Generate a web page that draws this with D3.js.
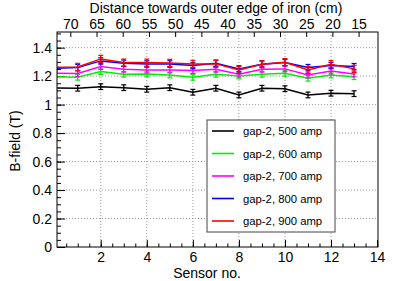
<!DOCTYPE html>
<html>
<head>
<meta charset="utf-8">
<script src="https://cdn.jsdelivr.net/npm/d3@7"></script>
<style>
body { margin: 0; background: #fff; }
svg text { font-family: "Liberation Sans", Arial, sans-serif; }
</style>
</head>
<body>
<div id="chart"></div>
<script>
// sensor numbers and B-field readings (T)
var sensors = [0, 1, 2, 3, 4, 5, 6, 7, 8, 9, 10, 11, 12, 13];
var amp500 = [1.117, 1.115, 1.126, 1.119, 1.108, 1.119, 1.087, 1.115, 1.068, 1.115, 1.112, 1.068, 1.080, 1.077];
var amp600 = [1.196, 1.192, 1.232, 1.213, 1.215, 1.208, 1.192, 1.213, 1.201, 1.213, 1.220, 1.185, 1.208, 1.196];
var amp700 = [1.220, 1.218, 1.267, 1.248, 1.243, 1.243, 1.239, 1.248, 1.213, 1.248, 1.251, 1.208, 1.236, 1.215];
var amp800 = [1.255, 1.260, 1.307, 1.291, 1.286, 1.286, 1.274, 1.291, 1.251, 1.284, 1.295, 1.260, 1.274, 1.267];
var amp900 = [1.262, 1.265, 1.321, 1.295, 1.295, 1.293, 1.286, 1.286, 1.243, 1.284, 1.298, 1.243, 1.284, 1.251];
var errors = [0.02, 0.02, 0.02, 0.022, 0.025];
var seriesNames = ["gap-2, 500 amp", "gap-2, 600 amp", "gap-2, 700 amp", "gap-2, 800 amp", "gap-2, 900 amp"];
var colors = ["#000000", "#00ee00", "#ff00ff", "#0000ff", "#ff0000"];
var yTicks = [0, 0.2, 0.4, 0.6, 0.8, 1, 1.2, 1.4];
var xTicks = [2, 4, 6, 8, 10, 12, 14];
var topTicks = [70, 65, 60, 55, 50, 45, 40, 35, 30, 25, 20, 15];

var allSeries = [amp500, amp600, amp700, amp800, amp900];

var width = 415, height = 281;
var margin = {top: 32, right: 37, bottom: 34, left: 57};
var chartWidth = width - margin.left - margin.right;
var chartHeight = height - margin.top - margin.bottom;

var svg = d3.select("#chart").append("svg")
    .attr("width", width)
    .attr("height", height);

svg.append("defs").append("clipPath").attr("id", "frame-clip")
  .append("rect").attr("width", chartWidth).attr("height", chartHeight);

var g = svg.append("g")
    .attr("transform", `translate(${margin.left}, ${margin.top})`);

var xScale = d3.scaleLinear().domain([0.1, 14.04]).range([0, chartWidth]);
var yScale = d3.scaleLinear().domain([0, 1.51]).range([chartHeight, 0]);
// distance axis on top
var topScale = d3.scaleLinear().domain([72.54, 11.3]).range([0, chartWidth]);

// grid
g.append("g").selectAll("line")
    .data(xTicks.filter(d => d < 14))
    .enter().append("line")
    .attr("x1", d => xScale(d)).attr("x2", d => xScale(d))
    .attr("y1", 0).attr("y2", chartHeight)
    .attr("stroke", "#999").attr("stroke-dasharray", "1,2");
g.append("g").selectAll("line")
    .data(yTicks.filter(d => d > 0))
    .enter().append("line")
    .attr("x1", 0).attr("x2", chartWidth)
    .attr("y1", d => yScale(d)).attr("y2", d => yScale(d))
    .attr("stroke", "#999").attr("stroke-dasharray", "1,2");

// axes
var minorX = d3.range(0.5, 14.01, 0.5);
var minorY = d3.range(0, 1.501, 0.05);

g.append("g")
    .attr("transform", `translate(0,${chartHeight})`)
    .call(d3.axisBottom(xScale).tickValues(minorX).tickSize(-3.5).tickFormat(""))
    .call(a => a.select(".domain").remove());
g.append("g")
    .attr("class", "x axis")
    .attr("transform", `translate(0,${chartHeight})`)
    .call(d3.axisBottom(xScale).tickValues(xTicks).tickSize(-7).tickPadding(5).tickFormat(d3.format("d")))
    .call(a => a.select(".domain").remove());

g.append("g")
    .call(d3.axisLeft(yScale).tickValues(minorY).tickSize(-4).tickFormat(""))
    .call(a => a.select(".domain").remove());
g.append("g")
    .attr("class", "y axis")
    .call(d3.axisLeft(yScale).tickValues(yTicks).tickSize(-8).tickPadding(5).tickFormat(d => d3.format("")(d)))
    .call(a => a.select(".domain").remove());

g.append("g")
    .attr("class", "top axis")
    .call(d3.axisTop(topScale).tickValues(topTicks).tickSize(-5).tickPadding(3))
    .call(a => a.select(".domain").remove());

g.selectAll(".tick line").attr("stroke", "#000");
g.selectAll(".tick text").attr("font-size", "14px").attr("fill", "#000")
    .attr("font-family", "Liberation Sans, Arial, sans-serif");

// series
var line = d3.line()
    .x((d, i) => xScale(sensors[i]))
    .y(d => yScale(d));

var plot = g.append("g").attr("clip-path", "url(#frame-clip)");

allSeries.forEach((vals, k) => {
  var sg = plot.append("g");
  sg.append("path")
      .datum(vals)
      .attr("d", line)
      .attr("fill", "none")
      .attr("stroke", colors[k])
      .attr("stroke-width", 1.5);
  var eb = sg.selectAll(".err").data(vals).enter().append("g");
  eb.append("line")
      .attr("x1", (d, i) => xScale(sensors[i])).attr("x2", (d, i) => xScale(sensors[i]))
      .attr("y1", d => yScale(d - errors[k])).attr("y2", d => yScale(d + errors[k]))
      .attr("stroke", colors[k]).attr("stroke-width", 1.3);
  [-1, 1].forEach(s => {
    eb.append("line")
        .attr("x1", (d, i) => xScale(sensors[i]) - 2.5).attr("x2", (d, i) => xScale(sensors[i]) + 2.5)
        .attr("y1", d => yScale(d + s * errors[k])).attr("y2", d => yScale(d + s * errors[k]))
        .attr("stroke", colors[k]).attr("stroke-width", 1.2);
  });
});

// frame
g.append("rect")
    .attr("width", chartWidth).attr("height", chartHeight)
    .attr("fill", "none").attr("stroke", "#000");

// titles
svg.append("text")
    .attr("x", 216).attr("y", 13)
    .attr("text-anchor", "middle").attr("font-size", "14px")
    .text("Distance towards outer edge of iron (cm)");
svg.append("text")
    .attr("x", 207).attr("y", 278)
    .attr("text-anchor", "middle").attr("font-size", "14px")
    .text("Sensor no.");
svg.append("text")
    .attr("transform", "translate(20,141) rotate(-90)")
    .attr("text-anchor", "middle").attr("font-size", "14px")
    .text("B-field (T)");

// legend
var legend = svg.append("g").attr("transform", "translate(207,120)");
legend.append("rect")
    .attr("width", 128).attr("height", 112)
    .attr("fill", "#fff").attr("stroke", "#444");
var items = legend.selectAll(".item").data(seriesNames).enter().append("g")
    .attr("transform", (d, i) => `translate(0,${11 + i * 22.5})`);
items.append("line")
    .attr("x1", 5).attr("x2", 27)
    .attr("stroke", (d, i) => colors[i]).attr("stroke-width", 1.6);
items.append("text")
    .attr("x", 36).attr("y", 4)
    .attr("font-size", "11.3px")
    .text(d => d);
</script>
</body>
</html>
